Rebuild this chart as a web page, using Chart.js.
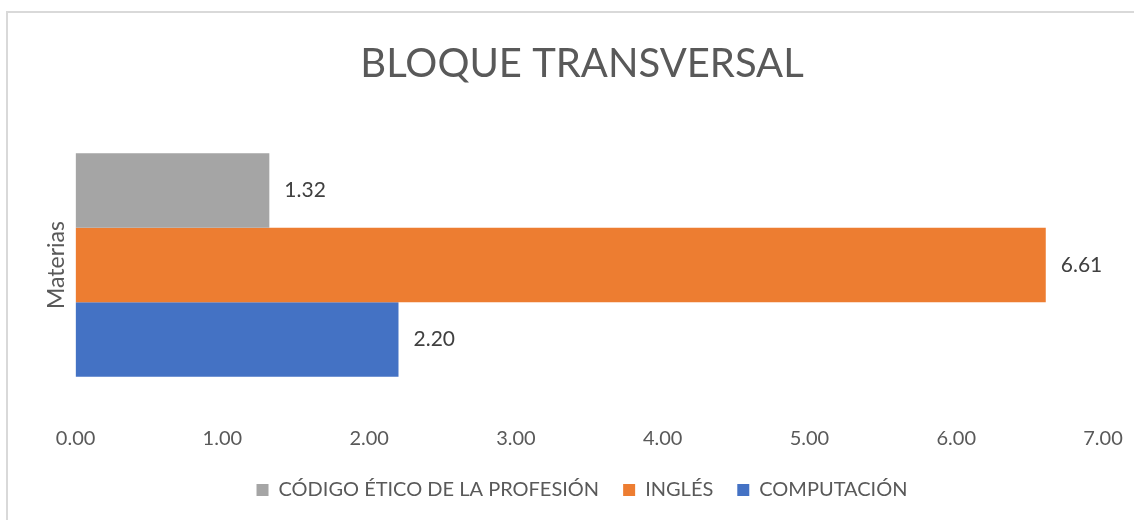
<!DOCTYPE html>
<html>
<head>
<meta charset="utf-8">
<script src="https://cdn.jsdelivr.net/npm/chart.js@4/dist/chart.umd.min.js"></script>
<style>
  body { margin: 0; background: #fff; }
  #wrap { position: relative; width: 1134px; height: 520px; overflow: hidden; }
  #frame { position: absolute; left: 6px; top: 11px; width: 1140px; height: 540px; border: 2px solid #d9d9d9; box-sizing: border-box; }
  #myChart { position: absolute; left: 0; top: 0; }
</style>
</head>
<body>
<div id="wrap">
  <div id="frame"></div>
  <canvas id="myChart" width="1134" height="520"></canvas>
</div>
<script>
const categories = ['']
const seriesNames = ['CÓDIGO ÉTICO DE LA PROFESIÓN', 'INGLÉS', 'COMPUTACIÓN']
const seriesValues = [1.32, 6.61, 2.20]
const seriesColors = ['#a5a5a5', '#ed7d31', '#4472c4']
const axisTitle = 'Materias'
const chartTitle = 'BLOQUE TRANSVERSAL'

const fontFamily = 'Lato, "Open Sans", sans-serif'

// value text to the right of each bar
const valueLabels = {
    id: 'valueLabels',
    afterDatasetsDraw(chart) {
        const ctx = chart.ctx
        ctx.save()
        ctx.font = '21px ' + fontFamily
        ctx.fillStyle = '#404040'
        ctx.textBaseline = 'middle'
        ctx.textAlign = 'left'
        chart.data.datasets.forEach((ds, i) => {
            chart.getDatasetMeta(i).data.forEach((bar, j) => {
                ctx.fillText(ds.data[j].toFixed(2), bar.x + 15, bar.y)
            })
        })
        ctx.restore()
    }
}

const ctx = document.getElementById('myChart')

new Chart(ctx, {
    type: 'bar',
    plugins: [valueLabels],
    data: {
        labels: categories,
        datasets: seriesNames.map((name, i) => ({
            label: name,
            data: [seriesValues[i]],
            backgroundColor: seriesColors[i],
            borderWidth: 0,
            barPercentage: 1,
            categoryPercentage: 0.75
        }))
    },
    options: {
        indexAxis: 'y',
        responsive: false,
        animation: false,
        layout: { padding: { left: 61, right: 31, top: 18, bottom: 10 } },
        plugins: {
            title: {
                display: true,
                text: chartTitle,
                color: '#595959',
                font: { family: fontFamily, size: 40, weight: 'normal' },
                padding: { top: 22, bottom: 28 }
            },
            legend: {
                position: 'bottom',
                labels: {
                    color: '#595959',
                    font: { family: fontFamily, size: 20 },
                    boxWidth: 12,
                    boxHeight: 12,
                    padding: 24
                }
            },
            tooltip: { enabled: false }
        },
        scales: {
            x: {
                min: 0,
                max: 7,
                grid: { display: false },
                border: { display: false },
                ticks: {
                    stepSize: 1,
                    color: '#595959',
                    font: { family: fontFamily, size: 20 },
                    padding: 5,
                    callback: v => v.toFixed(2)
                }
            },
            y: {
                grid: { display: false },
                border: { display: false },
                ticks: { display: false },
                title: {
                    display: true,
                    text: axisTitle,
                    color: '#595959',
                    font: { family: fontFamily, size: 23 },
                    padding: { top: -18, bottom: -3 }
                }
            }
        }
    }
})
</script>
</body>
</html>
